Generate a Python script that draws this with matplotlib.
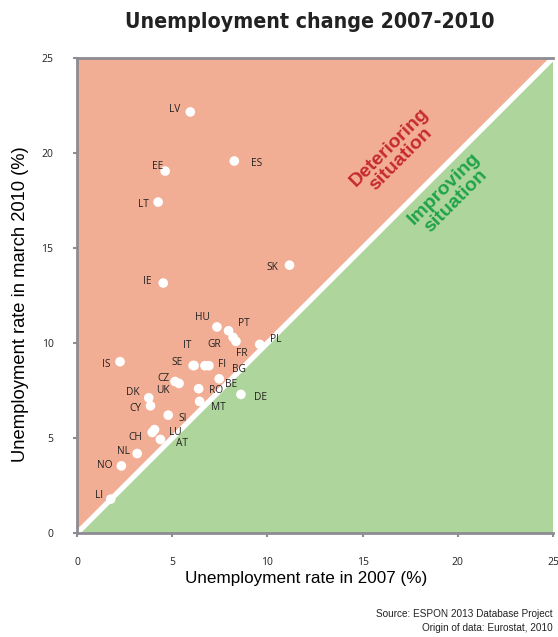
import matplotlib.pyplot as plt
from matplotlib import font_manager
import numpy as np

# unemployment rate (%) per country: 2007 vs march 2010
countries = ["LV", "ES", "EE", "LT", "IE", "SK", "HU", "PT", "GR", "FR", "PL",
             "IS", "SE", "IT", "FI", "BG", "BE", "CZ", "UK", "RO", "DK", "CY",
             "MT", "DE", "SI", "LU", "CH", "AT", "NL", "NO", "LI"]
rate_2007 = [5.95, 8.26, 4.63, 4.26, 4.53, 11.16, 7.35, 7.96, 8.2, 8.35, 9.6,
             2.26, 6.1, 6.15, 6.72, 6.93, 7.47, 5.15, 5.36, 6.39, 3.77, 3.86,
             6.44, 8.61, 4.79, 4.07, 3.95, 4.38, 3.16, 2.33, 1.77]
rate_2010 = [22.16, 19.58, 19.05, 17.42, 13.16, 14.1, 10.85, 10.65, 10.3, 10.09, 9.93,
             9.02, 8.82, 8.82, 8.81, 8.81, 8.12, 7.98, 7.88, 7.6, 7.12, 6.7,
             6.93, 7.3, 6.21, 5.45, 5.3, 4.93, 4.19, 3.54, 1.79]

# label offsets in pixels (dx, dy), y upwards
label_offsets = {
    "LV": (-16, 2), "ES": (22, -3), "EE": (-8, 5), "LT": (-15, -2), "IE": (-16, 2),
    "SK": (-17, -2), "HU": (-15, 9), "PT": (15, 7), "GR": (-19, -7), "FR": (6, -12),
    "PL": (16, 5), "IS": (-14, -3), "SE": (-16, 3), "IT": (-7, 20), "FI": (17, 1),
    "BG": (30, -4), "BE": (12, -6), "CZ": (-12, 3), "UK": (-16, -7), "RO": (17, -2),
    "DK": (-16, 5), "CY": (-15, -3), "MT": (19, -6), "DE": (20, -3), "SI": (15, -3),
    "LU": (21, -3), "CH": (-17, -5), "AT": (22, -4), "NL": (-14, 2), "NO": (-17, 0),
    "LI": (-12, 4),
}

SALMON = "#f2ae94"
GREEN = "#aed59c"
AXIS_GREY = "#8c8c92"

fig = plt.figure(figsize=(5.58, 6.37), dpi=100)
ax = fig.add_axes([0.138, 0.163, 0.853, 0.746])
ax.set_xlim(0, 25)
ax.set_ylim(0, 25)

# background triangles and diagonal
ax.fill([0, 0, 25], [0, 25, 25], color=SALMON, zorder=0, lw=0)
ax.fill([0, 25, 25], [0, 0, 25], color=GREEN, zorder=0, lw=0)
ax.plot([0, 25], [0, 25], color="white", lw=3.8, zorder=1, solid_capstyle="butt")

ax.scatter(rate_2007, rate_2010, s=48, color="white", edgecolors="none", zorder=3)
for code, x, y in zip(countries, rate_2007, rate_2010):
    dx, dy = label_offsets[code]
    ax.annotate(code, (x, y), xytext=(dx, dy), textcoords="offset pixels",
                ha="center", va="center", fontsize=7.3, family="Open Sans",
                color="#222222", zorder=4)

ax.text(16.7, 20.0, "Deterioring\nsituation", rotation=45, rotation_mode="anchor",
        ha="center", va="center", color="#c62a2f", fontsize=14, fontweight="bold",
        family="Liberation Sans", linespacing=0.95, zorder=2)
ax.text(19.6, 17.8, "Improving\nsituation", rotation=45, rotation_mode="anchor",
        ha="center", va="center", color="#20a34a", fontsize=14, fontweight="bold",
        family="Liberation Sans", linespacing=0.95, zorder=2)

ticks = [0, 5, 10, 15, 20, 25]
ax.set_xticks(ticks)
ax.set_yticks(ticks)
ax.tick_params(length=3, width=1.5, color=AXIS_GREY, labelsize=7.5, labelcolor="#222222")
ax.tick_params(axis="x", pad=14)
ax.tick_params(axis="y", pad=14)
for lab in ax.get_xticklabels() + ax.get_yticklabels():
    lab.set_family("Open Sans")
for side in ["left", "bottom", "top"]:
    ax.spines[side].set_color(AXIS_GREY)
    ax.spines[side].set_linewidth(2)
ax.spines["right"].set_visible(False)

ax.set_xlabel("Unemployment rate in 2007 (%)", fontsize=12.3, family="Liberation Sans")
ax.set_ylabel("Unemployment rate in march 2010 (%)", fontsize=13.2, family="Liberation Sans")
ax.xaxis.set_label_coords(0.481, -0.08)
ax.yaxis.set_label_coords(-0.1, 0.483)

# condensed bold title
title_font = font_manager.FontProperties(family="DejaVu Sans", weight="bold",
                                         stretch="condensed", size=15.3)
fig.text(0.556, 0.965, "Unemployment change 2007-2010", ha="center", va="center",
         fontproperties=title_font, color="#222222")
fig.text(0.99, 0.036, "Source: ESPON 2013 Database Project", ha="right", va="center",
         fontsize=7.2, family="Liberation Sans", color="#222222")
fig.text(0.99, 0.014, "Origin of data: Eurostat, 2010", ha="right", va="center",
         fontsize=7.2, family="Liberation Sans", color="#222222")

fig.savefig("out.png", dpi=100)
